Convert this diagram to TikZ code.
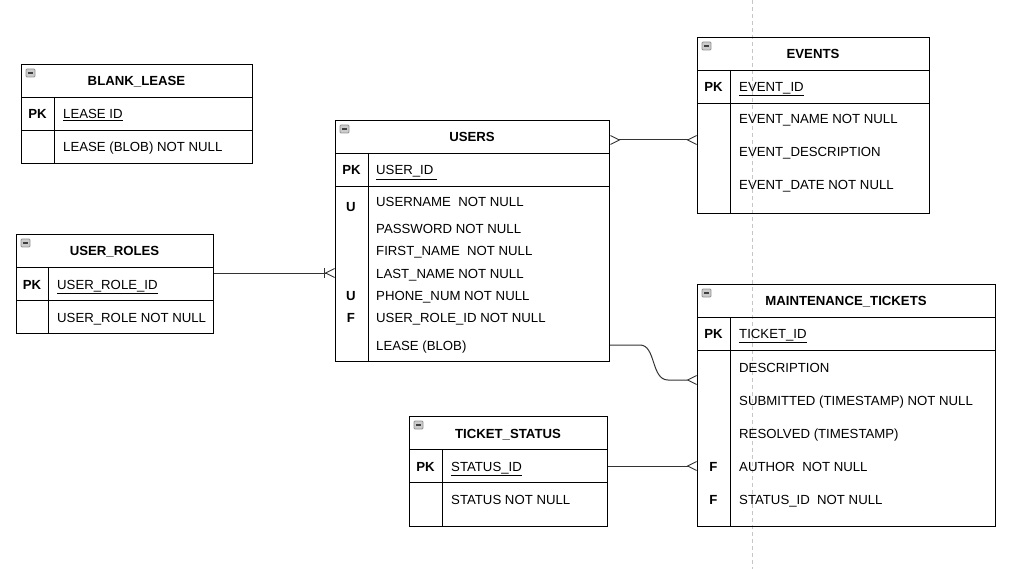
\documentclass[tikz,border=0pt]{standalone}
\usepackage{fontspec}
\setmainfont{Liberation Sans}
\usepackage{tikz}
\usetikzlibrary{positioning,calc,arrows.meta}

\tikzset{
  tbox/.style={draw, line width=1pt, anchor=north west, inner sep=0pt},
  tline/.style={line width=0.9pt},
  ttl/.style={font=\fontsize{13.2}{15}\selectfont\bfseries, inner sep=0pt, text height=11pt, text depth=1pt},
  key/.style={font=\fontsize{13.2}{15}\selectfont\bfseries, inner sep=0pt, text height=11pt, text depth=1pt},
  fld/.style={font=\fontsize{13.2}{15}\selectfont, anchor=west, inner sep=0pt, text height=11pt, text depth=1pt},
  icon/.style={draw=gray!85, fill=gray!40, line width=0.8pt, rounded corners=1pt},
  rel/.style={draw=black!80, line width=1pt},
  crow/.tip={Straight Barb[reversed, length=9pt, width=9pt, line width=0.9pt]},
}

\begin{document}
\begin{tikzpicture}[x=1pt, y=-1pt]
    \useasboundingbox (0,0) rectangle (1030,569);
    % page break line
    \draw[gray!45, dash pattern=on 4pt off 3pt] (752,0) -- (752,569);

    % BLANK_LEASE
    \node[tbox, minimum width=231, minimum height=99] (lease) at (21,64) {};
    \draw[tline] (21,97) -- (252,97) (21,130) -- (252,130) (54,97) -- (54,163);
    \node[ttl] (leaseTitle) at (136.5,81) {BLANK\_LEASE};
    \node[key] (leasePk) at (37.5,114) {PK};
    \node[fld] (leaseId) at (63,114) {\underline{LEASE ID}};
    \node[fld] (leaseBlob) at (63,147) {LEASE (BLOB) NOT NULL};

    % USER_ROLES
    \node[tbox, minimum width=197, minimum height=99] (roles) at (16,234) {};
    \draw[tline] (16,267) -- (213,267) (16,300) -- (213,300) (48,267) -- (48,333);
    \node[ttl] (rolesTitle) at (114.5,251) {USER\_ROLES};
    \node[key] (rolesPk) at (32,284) {PK};
    \node[fld] (roleId) at (57,284) {\underline{USER\_ROLE\_ID}};
    \node[fld] (roleName) at (57,317) {USER\_ROLE NOT NULL};

    % USERS
    \node[tbox, minimum width=274, minimum height=241] (users) at (335,120) {};
    \draw[tline] (335,153) -- (609,153) (335,186) -- (609,186) (368,153) -- (368,361);
    \node[ttl] (usersTitle) at (472,137) {USERS};
    \node[key] (usersPk) at (351.5,170) {PK};
    \node[fld] (userId) at (376,170) {\underline{USER\_ID\ }};
    \foreach \y/\t/\n in {202/USERNAME\ \ NOT NULL/userName, 229/PASSWORD NOT NULL/userPass,
        251/FIRST\_NAME\ \ NOT NULL/userFirst, 273/LAST\_NAME NOT NULL/userLast,
        295/PHONE\_NUM NOT NULL/userPhone, 317/USER\_ROLE\_ID NOT NULL/userRole,
        345/LEASE (BLOB)/userLease}
      \node[fld] (\n) at (376,\y) {\t};
    \node[key] (usersU1) at (351,207) {U};
    \node[key] (usersU2) at (351,295) {U};
    \node[key] (usersF) at (351,317) {F};

    % EVENTS
    \node[tbox, minimum width=232, minimum height=176] (events) at (697,37) {};
    \draw[tline] (697,70) -- (929,70) (697,103) -- (929,103) (730,70) -- (730,213);
    \node[ttl] (eventsTitle) at (813,53.5) {EVENTS};
    \node[key] (eventsPk) at (713.5,86.5) {PK};
    \node[fld] (eventId) at (739,86.5) {\underline{EVENT\_ID}};
    \foreach \y/\t/\n in {119/EVENT\_NAME NOT NULL/eventName,
        152/EVENT\_DESCRIPTION/eventDesc, 185/EVENT\_DATE NOT NULL/eventDate}
      \node[fld] (\n) at (739,\y) {\t};

    % MAINTENANCE_TICKETS
    \node[tbox, minimum width=298, minimum height=242] (mt) at (697,284) {};
    \draw[tline] (697,317) -- (995,317) (697,350) -- (995,350) (730,317) -- (730,526);
    \node[ttl] (mtTitle) at (846,300.5) {MAINTENANCE\_TICKETS};
    \node[key] (mtPk) at (713.5,333.5) {PK};
    \node[fld] (ticketId) at (739,333.5) {\underline{TICKET\_ID}};
    \foreach \y/\t/\n in {367/DESCRIPTION/mtDesc, 400/SUBMITTED (TIMESTAMP) NOT NULL/mtSub,
        433/RESOLVED (TIMESTAMP)/mtRes, 466/AUTHOR\ \ NOT NULL/mtAuthor,
        499/STATUS\_ID\ \ NOT NULL/mtStatus}
      \node[fld] (\n) at (739,\y) {\t};
    \node[key] (mtF1) at (713.5,466) {F};
    \node[key] (mtF2) at (713.5,499) {F};

    % TICKET_STATUS
    \node[tbox, minimum width=198, minimum height=110] (status) at (409,416) {};
    \draw[tline] (409,449) -- (607,449) (409,482) -- (607,482) (442,449) -- (442,526);
    \node[ttl] (statusTitle) at (508,433) {TICKET\_STATUS};
    \node[key] (statusPk) at (425.5,466) {PK};
    \node[fld] (statusId) at (451,466) {\underline{STATUS\_ID}};
    \node[fld] (statusName) at (451,499) {STATUS NOT NULL};

    % collapse icons
    \foreach \x/\y in {21/64, 16/234, 335/120, 697/37, 697/284, 409/416} {
      \draw[icon] (\x+5,\y+5) rectangle ++(9,8);
      \draw[black!75, line width=1.2pt] (\x+7,\y+9) -- ++(5,0);
    }

    % relations
    \coordinate (mtIn) at (697,380);
    \draw[rel, crow-crow] ([yshift=-3pt]usersTitle -| users.east) -- ([yshift=-3pt]usersTitle -| events.west);
    \draw[rel, -{Bar[width=9pt, line width=0.9pt] crow}] (userLast -| roles.east) -- (userLast -| users.west);
    \draw[rel, -crow] (userLease -| users.east) -- (640,345) .. controls (656,345) and (651,380) .. (668,380) -- (mtIn);
    \draw[rel, -crow] (statusId -| status.east) -- (statusId -| mt.west);
\end{tikzpicture}
\end{document}
